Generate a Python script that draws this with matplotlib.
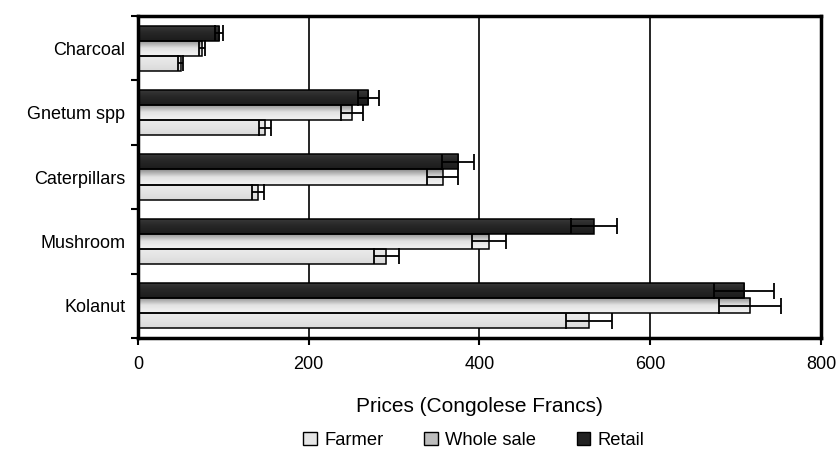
import numpy as np
import matplotlib
matplotlib.use("Agg")
import matplotlib.pyplot as plt
from matplotlib.colors import LinearSegmentedColormap
from matplotlib.patches import Patch

plt.rcParams['font.family'] = ['Liberation Sans', 'DejaVu Sans']

# data
products = ["Charcoal", "Gnetum spp", "Caterpillars", "Mushroom", "Kolanut"]
farmer = [50, 149, 141, 291, 528]
farmer_err = [3, 7, 7, 15, 27]
wholesale = [75, 251, 357, 411, 717]
wholesale_err = [4, 13, 18, 20, 36]
retail = [95, 270, 375, 534, 710]
retail_err = [5, 12, 19, 27, 35]

series = [
    ("Retail", retail, retail_err, ["#3a3a3a", "#262626", "#1c1c1c"], -1),
    ("Whole sale", wholesale, wholesale_err, ["#8a8a8a", "#e2e2e2", "#f4f4f4"], 0),
    ("Farmer", farmer, farmer_err, ["#ececec", "#e4e4e4", "#dadada"], 1),
]

fig = plt.figure(figsize=(8.36, 4.58), dpi=100)
ax = fig.add_axes([0.165, 0.262, 0.817, 0.703])

y = np.arange(len(products))
h = 0.234

for x in [200, 400, 600]:
    ax.axvline(x, color="black", lw=1.2, zorder=1)

for name, vals, errs, cols, off in series:
    cmap = LinearSegmentedColormap.from_list(name, cols)
    bars = ax.barh(y + off * h, vals, height=h, facecolor="none",
                   edgecolor="black", lw=1.1, zorder=3)
    for b in bars:
        x0, y0 = b.get_x(), b.get_y()
        grad = np.linspace(0, 1, 50).reshape(-1, 1)
        im = ax.imshow(grad, extent=[x0, x0 + b.get_width(), y0 + h, y0],
                       aspect="auto", cmap=cmap, origin="upper", zorder=2)
        im.set_clip_path(b)
    ax.errorbar(vals, y + off * h, xerr=errs, fmt="none", ecolor="black",
                elinewidth=1.3, capsize=5.5, capthick=1.3, zorder=4)

ax.set_xlim(0, 800)
ax.set_ylim(len(products) - 0.5, -0.5)
ax.set_xticks([0, 200, 400, 600, 800])
ax.set_yticks(y)
ax.set_yticklabels(products)
ax.set_yticks(np.arange(-0.5, len(products), 1), minor=True)
ax.tick_params(axis="y", which="major", length=0, pad=9, labelsize=13)
ax.tick_params(axis="y", which="minor", length=5, width=1.5, direction="out")
ax.tick_params(axis="x", length=5, width=1.5, direction="out", pad=8, labelsize=13)
for s in ax.spines.values():
    s.set_linewidth(2.5)

ax.set_xlabel("Prices (Congolese Francs)", fontsize=15, labelpad=17)

handles = [Patch(facecolor="#e6e6e6", edgecolor="black", lw=1, label="Farmer"),
           Patch(facecolor="#bdbdbd", edgecolor="black", lw=1, label="Whole sale"),
           Patch(facecolor="#222222", edgecolor="black", lw=1, label="Retail")]
fig.legend(handles=handles, loc="center", bbox_to_anchor=(0.567, 0.038), ncol=3,
           frameon=False, fontsize=13.2, handlelength=0.75, handleheight=0.75,
           handletextpad=0.4, columnspacing=2.2)

fig.savefig("out.png", dpi=100)
